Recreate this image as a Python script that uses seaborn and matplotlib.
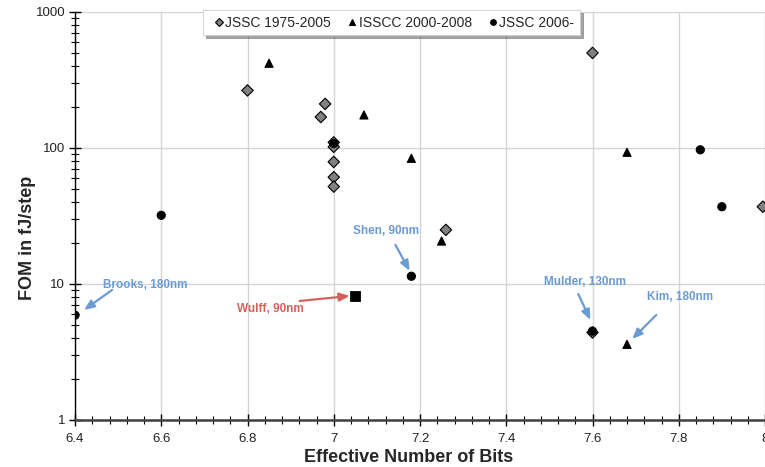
import numpy as np
import pandas as pd
import matplotlib
matplotlib.use("Agg")
import matplotlib.pyplot as plt
import seaborn as sns
from matplotlib.ticker import MultipleLocator, LogLocator, NullFormatter, FixedLocator, FixedFormatter

# ---- data ----
jssc_old_x = [6.80, 6.98, 6.97, 7.00, 7.00, 7.00, 7.00, 7.00, 7.26, 7.60, 7.995, 7.60]
jssc_old_y = [265, 211, 169, 110, 102, 79, 61, 52, 25, 500, 37, 4.4]
isscc_x = [6.85, 7.07, 7.18, 7.25, 7.68, 7.68]
isscc_y = [420, 175, 84, 20.7, 93, 3.6]
jssc_new_x = [6.40, 6.60, 7.00, 7.18, 7.60, 7.85, 7.90]
jssc_new_y = [5.9, 32, 108, 11.4, 4.5, 97, 37]
wulff_x = [7.05]
wulff_y = [8.1]

series_names = ["JSSC 1975-2005", "ISSCC 2000-2008", "JSSC 2006-"]
x_ticks = [6.4, 6.6, 6.8, 7.0, 7.2, 7.4, 7.6, 7.8, 8.0]
x_tick_labels = ["6.4", "6.6", "6.8", "7", "7.2", "7.4", "7.6", "7.8", "8"]
y_ticks = [1, 10, 100, 1000]
y_tick_labels = ["1", "10", "100", "1000"]

# annotations: label, text position, arrow tail, arrow head, colour
blue = "#6a9bd2"
red = "#d4625a"
notes = [
    ("Brooks, 180nm", (6.562, 9.84), (6.486, 9.04), (6.421, 6.44), blue),
    ("Wulff, 90nm", (6.854, 6.55), (6.921, 7.5), (7.037, 8.17), red),
    ("Shen, 90nm", (7.122, 24.5), (7.143, 19.4), (7.176, 12.5), blue),
    ("Mulder, 130nm", (7.583, 10.3), (7.567, 8.44), (7.595, 5.44), blue),
    ("Kim, 180nm", (7.803, 8.02), (7.748, 5.92), (7.692, 3.94), blue),
]

df = pd.concat([
    pd.DataFrame({"x": jssc_old_x, "y": jssc_old_y, "series": series_names[0]}),
    pd.DataFrame({"x": isscc_x, "y": isscc_y, "series": series_names[1]}),
    pd.DataFrame({"x": jssc_new_x, "y": jssc_new_y, "series": series_names[2]}),
], ignore_index=True)

sns.set_style("white")
plt.rcParams["font.family"] = ["Liberation Sans", "DejaVu Sans"]

fig = plt.figure(figsize=(7.65, 4.67), dpi=100)
ax = fig.add_axes([75 / 765, 1 - 420 / 467, 1 - 75 / 765, (420 - 12) / 467])

ax.set_yscale("log")
ax.set_xlim(6.4, 8.0)
ax.set_ylim(1, 1000)

sns.scatterplot(data=df, x="x", y="y", hue="series", style="series",
                hue_order=series_names, style_order=series_names,
                markers={series_names[0]: "D", series_names[1]: "^", series_names[2]: "o"},
                palette={series_names[0]: "#808080", series_names[1]: "black", series_names[2]: "black"},
                edgecolor="black", linewidth=0.8, s=34, ax=ax, zorder=3, clip_on=True)
sns.scatterplot(x=wulff_x, y=wulff_y, marker="s", color="black", s=55, ax=ax,
                zorder=3, legend=False, edgecolor="black")

# ticks and grid
ax.xaxis.set_major_locator(FixedLocator(x_ticks))
ax.xaxis.set_major_formatter(FixedFormatter(x_tick_labels))
ax.xaxis.set_minor_locator(MultipleLocator(0.04))
ax.yaxis.set_major_locator(FixedLocator(y_ticks))
ax.yaxis.set_major_formatter(FixedFormatter(y_tick_labels))
ax.yaxis.set_minor_locator(LogLocator(base=10, subs=np.arange(2, 10)))
ax.yaxis.set_minor_formatter(NullFormatter())
ax.grid(True, which="major", color="#d4d4d4", linewidth=1.0, zorder=0)
ax.set_axisbelow(True)

for s in ["top", "right"]:
    ax.spines[s].set_visible(False)
ax.spines["left"].set_color("black")
ax.spines["left"].set_linewidth(1.0)
ax.spines["bottom"].set_color("#404040")
ax.spines["bottom"].set_linewidth(1.8)

ax.tick_params(axis="both", which="both", bottom=True, left=True)
ax.tick_params(axis="both", which="major", direction="inout", length=8, width=1.0,
               color="black", labelsize=9.5, labelcolor="#222222")
ax.tick_params(axis="both", which="minor", direction="inout", length=6, width=0.8, color="black")
ax.tick_params(axis="x", which="major", pad=5)
ax.tick_params(axis="y", which="major", pad=3)

ax.set_xlabel("Effective Number of Bits", fontsize=13, fontweight="bold")
ax.xaxis.set_label_coords(0.483, -0.07)
ax.set_ylabel("FOM in fJ/step", fontsize=13, fontweight="bold")
ax.yaxis.set_label_coords(-0.057, 0.446)

for label, tpos, tail, head, col in notes:
    ax.annotate("", xy=head, xytext=tail,
                arrowprops=dict(arrowstyle="-|>,head_length=0.6,head_width=0.25", color=col, lw=1.6,
                                shrinkA=0, shrinkB=0), zorder=4)
    ax.text(tpos[0], tpos[1], label, color=col, fontsize=8.5, fontweight="bold",
            ha="center", va="center", zorder=4)

# legend
handles, labels = ax.get_legend_handles_labels()
leg = ax.legend(handles, labels, loc="upper center", bbox_to_anchor=(0.459, 1.022), ncol=3,
                frameon=True, fancybox=False, shadow=True, fontsize=10,
                handletextpad=-0.25, columnspacing=0.85, borderpad=0.4, markerscale=0.7,
                handlelength=1.4)
leg.get_frame().set_edgecolor("#cccccc")
leg.get_frame().set_linewidth(0.6)
leg.set_zorder(5)

fig.savefig("out.png", dpi=100)
